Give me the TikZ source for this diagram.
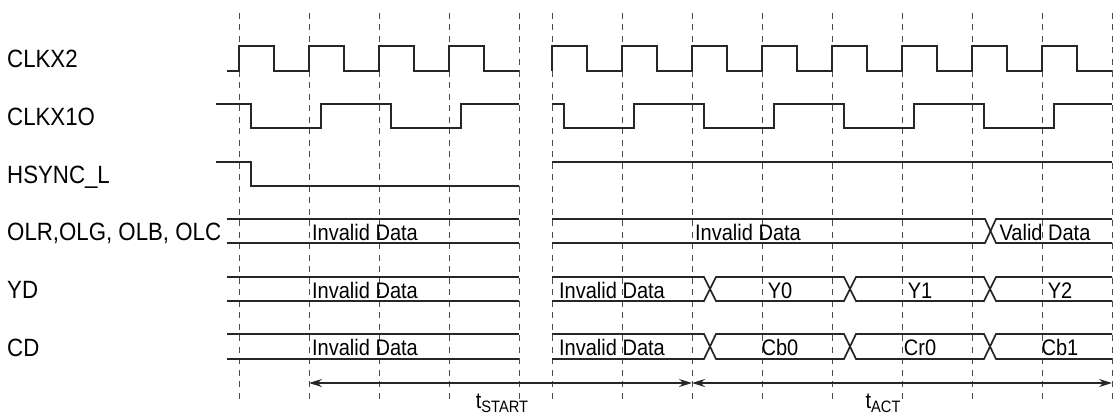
\documentclass[tikz,border=0pt]{standalone}
\usepackage{fontspec}
\setmainfont{Liberation Sans}[FakeStretch=0.89]
\usetikzlibrary{arrows.meta}
\begin{document}
\begin{tikzpicture}[x=1pt,y=-1pt,
  sig/.style={line width=1.7pt, draw=black!85, line join=miter},
  gridline/.style={line width=0.9pt, draw=black!70, dash pattern=on 6pt off 5.5pt},
  lbl/.style={anchor=base west, inner sep=0pt, font=\fontsize{25}{28}\selectfont},
  bustxt/.style={anchor=base, inner sep=0pt, font=\fontsize{22.5}{25}\selectfont},
  dim/.style={line width=1.4pt, draw=black!85, {Stealth[length=13pt,width=8pt]}-{Stealth[length=13pt,width=8pt]}},
]
\useasboundingbox (0,0) rectangle (1116,420);
% dashed time grid
\foreach \x in {239,309,379,449,519,552,622,692,762,832,902,972,1042,1112}
  \draw[gridline] (\x,13) -- (\x,400);
% labels
\node[lbl] (lclk2) at (7,67) {CLKX2};
\node[lbl] (lclk1) at (7,125) {CLKX1O};
\node[lbl] (lhs) at (7,183) {HSYNC\_L};
\node[lbl] (lol) at (7,240) {OLR,OLG, OLB, OLC};
\node[lbl] (lyd) at (7,298) {YD};
\node[lbl] (lcd) at (7,356) {CD};
% CLKX2
\draw[sig] (227,71) \foreach \x in {239,309,379,449} { -- (\x,71) -- (\x,46) -- (\x+35,46) -- (\x+35,71) } -- (519,71);
\draw[sig] (552,71) \foreach \x in {552,622,692,762,832,902,972,1042} { -- (\x,71) -- (\x,46) -- (\x+35,46) -- (\x+35,71) } -- (1112,71);
% CLKX1O
\draw[sig] (216,104) -- (251,104) -- (251,128) -- (321,128) -- (321,104) -- (391,104) -- (391,128) -- (461,128) -- (461,104) -- (519,104);
\draw[sig] (552,104) -- (564,104) -- (564,128) -- (634,128) -- (634,104) -- (704,104) -- (704,128) -- (774,128) -- (774,104) -- (844,104) -- (844,128) -- (914,128) -- (914,104) -- (984,104) -- (984,128) -- (1054,128) -- (1054,104) -- (1112,104);
% HSYNC_L
\draw[sig] (216,162) -- (251,162) -- (251,186) -- (519,186);
\draw[sig] (552,162) -- (1112,162);
% buses left
\foreach \t/\b in {219/243,277/301,334/359} {
  \draw[sig] (227,\t) -- (519,\t);
  \draw[sig] (227,\b) -- (519,\b);
}
% OLR right
\draw[sig] (552,219) -- (985,219) -- (996,243) -- (1112,243);
\draw[sig] (552,243) -- (985,243) -- (996,219) -- (1112,219);
% YD and CD right
\foreach \t/\b in {277/301,334/359} {
  \draw[sig] (552,\t) -- (704,\t) -- (716,\b) -- (844,\b) -- (856,\t) -- (984,\t) -- (996,\b) -- (1112,\b);
  \draw[sig] (552,\b) -- (704,\b) -- (716,\t) -- (844,\t) -- (856,\b) -- (984,\b) -- (996,\t) -- (1112,\t);
}
% bus texts
\node[bustxt] (t1) at (365,240) {Invalid Data};
\node[bustxt] (t2) at (365,298) {Invalid Data};
\node[bustxt] (t3) at (365,355) {Invalid Data};
\node[bustxt] (t4) at (748,240) {Invalid Data};
\node[bustxt] (t5) at (1045,240) {Valid Data};
\node[bustxt] (t6) at (612,298) {Invalid Data};
\node[bustxt] (t7) at (612,355) {Invalid Data};
\node[bustxt] (y0) at (780,298) {Y0};
\node[bustxt] (y1) at (920,298) {Y1};
\node[bustxt] (y2) at (1060,298) {Y2};
\node[bustxt] (c0) at (780,355) {Cb0};
\node[bustxt] (c1) at (920,355) {Cr0};
\node[bustxt] (c2) at (1060,355) {Cb1};
% dimension arrows
\coordinate (s0) at (309,383);
\coordinate (mid) at (692,383);
\coordinate (e0) at (1112,383);
\draw[dim] (s0) -- (mid);
\draw[dim] (mid) -- (e0);
\node[bustxt] (tstart) at (502,408) {t\raisebox{-4pt}{\fontsize{16.5}{18}\selectfont START}};
\node[bustxt] (tact) at (883,408) {t\raisebox{-4pt}{\fontsize{16.5}{18}\selectfont ACT}};
\end{tikzpicture}
\end{document}
